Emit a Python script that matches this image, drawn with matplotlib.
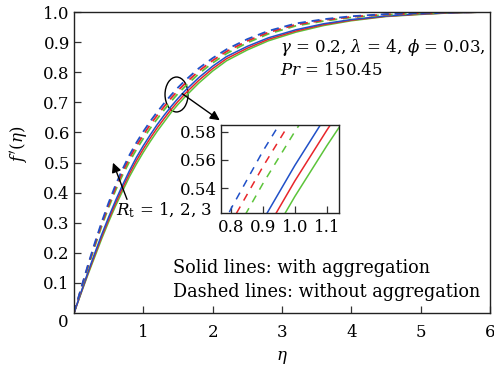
import matplotlib
matplotlib.use("Agg")
import matplotlib.pyplot as plt
from matplotlib.patches import Ellipse

plt.rcParams['font.family'] = ['DejaVu Serif']
plt.rcParams['mathtext.fontset'] = 'dejavuserif'

eta = [0, 0.1, 0.2, 0.3, 0.4, 0.5, 0.6, 0.7, 0.8, 0.9, 1.0, 1.1, 1.2, 1.3, 1.4, 1.5, 1.6,
       1.8, 2.0, 2.2, 2.5, 2.8, 3.2, 3.6, 4.0, 4.5, 5.0, 5.5, 6.0]

# with aggregation (solid)
solid_rt1 = [0, 0.068, 0.135, 0.199, 0.261, 0.319, 0.374, 0.425, 0.473, 0.517, 0.556, 0.592,
             0.626, 0.657, 0.686, 0.713, 0.738, 0.782, 0.820, 0.852, 0.886, 0.914, 0.941,
             0.961, 0.975, 0.987, 0.994, 0.998, 1.0]
solid_rt2 = [0, 0.066, 0.131, 0.193, 0.254, 0.311, 0.365, 0.415, 0.463, 0.506, 0.545, 0.581,
             0.615, 0.646, 0.676, 0.703, 0.728, 0.773, 0.812, 0.845, 0.880, 0.909, 0.937,
             0.958, 0.973, 0.986, 0.993, 0.998, 1.0]
solid_rt3 = [0, 0.064, 0.127, 0.187, 0.247, 0.303, 0.356, 0.405, 0.453, 0.495, 0.534, 0.570,
             0.604, 0.635, 0.666, 0.693, 0.718, 0.764, 0.804, 0.838, 0.874, 0.904, 0.933,
             0.955, 0.971, 0.985, 0.992, 0.998, 1.0]
# without aggregation (dashed)
dash_rt1 = [0, 0.081, 0.159, 0.233, 0.303, 0.367, 0.426, 0.478, 0.525, 0.566, 0.603, 0.637,
            0.668, 0.697, 0.724, 0.749, 0.772, 0.813, 0.847, 0.876, 0.910, 0.937, 0.962,
            0.976, 0.986, 0.993, 0.997, 0.999, 1.0]
dash_rt2 = [0, 0.079, 0.155, 0.227, 0.296, 0.359, 0.417, 0.468, 0.515, 0.555, 0.592, 0.626,
            0.657, 0.686, 0.714, 0.739, 0.762, 0.804, 0.839, 0.869, 0.904, 0.932, 0.958,
            0.973, 0.984, 0.992, 0.996, 0.999, 1.0]
dash_rt3 = [0, 0.077, 0.151, 0.221, 0.289, 0.351, 0.408, 0.458, 0.503, 0.543, 0.580, 0.614,
            0.645, 0.675, 0.703, 0.729, 0.752, 0.795, 0.831, 0.862, 0.898, 0.927, 0.954,
            0.970, 0.982, 0.991, 0.995, 0.999, 1.0]

colors = {'1': '#2050c8', '2': '#e8262a', '3': '#5cc43a'}
solids = [(solid_rt3, colors['3']), (solid_rt2, colors['2']), (solid_rt1, colors['1'])]
dashes = [(dash_rt3, colors['3']), (dash_rt2, colors['2']), (dash_rt1, colors['1'])]

x_ticks = [1, 2, 3, 4, 5, 6]
y_ticks = [0.1, 0.2, 0.3, 0.4, 0.5, 0.6, 0.7, 0.8, 0.9, 1.0]
inset_x_ticks = [0.8, 0.9, 1.0, 1.1]
inset_y_ticks = [0.54, 0.56, 0.58]

fig = plt.figure(figsize=(4.94, 3.70), dpi=100)
ax = fig.add_axes([0.1498, 0.154, 0.842, 0.8135])
for y, c in solids:
    ax.plot(eta, y, color=c, lw=1.1, solid_capstyle='butt')
for y, c in dashes:
    ax.plot(eta, y, color=c, lw=1.3, dashes=(4.5, 3.2))
ax.set_xlim(0, 6)
ax.set_ylim(0, 1.0)
ax.set_xticks(x_ticks)
ax.set_yticks(y_ticks)
ax.set_xticklabels([str(v) for v in x_ticks])
ax.set_yticklabels([f"{v:.1f}" for v in y_ticks])
ax.tick_params(direction='in', length=5, width=0.9, labelsize=12, color='#333333')
ax.tick_params(axis='x', pad=8)
ax.tick_params(axis='y', pad=3)
for s in ax.spines.values():
    s.set_linewidth(1.0)
    s.set_color('#222222')
ax.text(-0.15, -0.03, '0', fontsize=12, ha='center', va='center', transform=ax.transData,
        clip_on=False)
ax.set_xlabel(r'$\eta$', fontsize=12, labelpad=6)
ax.set_ylabel(r"$f\,'(\eta)$", fontsize=12)
ax.yaxis.set_label_coords(-0.103, 0.56)

ax.text(0.495, 0.881, r'$\gamma$ = 0.2, $\lambda$ = 4, $\phi$ = 0.03,', fontsize=12,
        transform=ax.transAxes, ha='left', va='center')
ax.text(0.495, 0.806, r'$Pr$ = 150.45', fontsize=12,
        transform=ax.transAxes, ha='left', va='center')
ax.text(0.1, 0.342, r'$R_{\rm t}$ = 1, 2, 3', fontsize=12,
        transform=ax.transAxes, ha='left', va='center')
ax.text(0.237, 0.151, 'Solid lines: with aggregation', fontsize=12.7,
        transform=ax.transAxes, ha='left', va='center')
ax.text(0.237, 0.071, 'Dashed lines: without aggregation', fontsize=12.7,
        transform=ax.transAxes, ha='left', va='center')

ax.annotate('', xy=(0.548, 0.508), xytext=(0.779, 0.369),
            arrowprops=dict(arrowstyle='-|>', color='black', lw=1.0, mutation_scale=14))
ax.add_patch(Ellipse((1.479, 0.726), 0.332, 0.116, fill=False, ec='black', lw=1.0))
ax.annotate('', xy=(2.135, 0.635), xytext=(1.529, 0.734),
            arrowprops=dict(arrowstyle='-|>', color='black', lw=1.0, mutation_scale=14))

axi = fig.add_axes([0.447, 0.4243, 0.239, 0.238])
for y, c in solids:
    axi.plot(eta, y, color=c, lw=1.1)
for y, c in dashes:
    axi.plot(eta, y, color=c, lw=1.1, dashes=(5, 4.5))
axi.set_xlim(0.769, 1.1375)
axi.set_ylim(0.5223, 0.5847)
axi.set_xticks(inset_x_ticks)
axi.set_yticks(inset_y_ticks)
axi.set_xticklabels([f"{v:.1f}" for v in inset_x_ticks])
axi.set_yticklabels([f"{v:.2f}" for v in inset_y_ticks])
axi.tick_params(direction='in', length=5, width=0.9, labelsize=12, color='#333333')
axi.tick_params(axis='x', pad=4)
axi.tick_params(axis='y', pad=3)
for s in axi.spines.values():
    s.set_linewidth(1.0)
    s.set_color('#222222')

fig.savefig('out.png', dpi=100)
